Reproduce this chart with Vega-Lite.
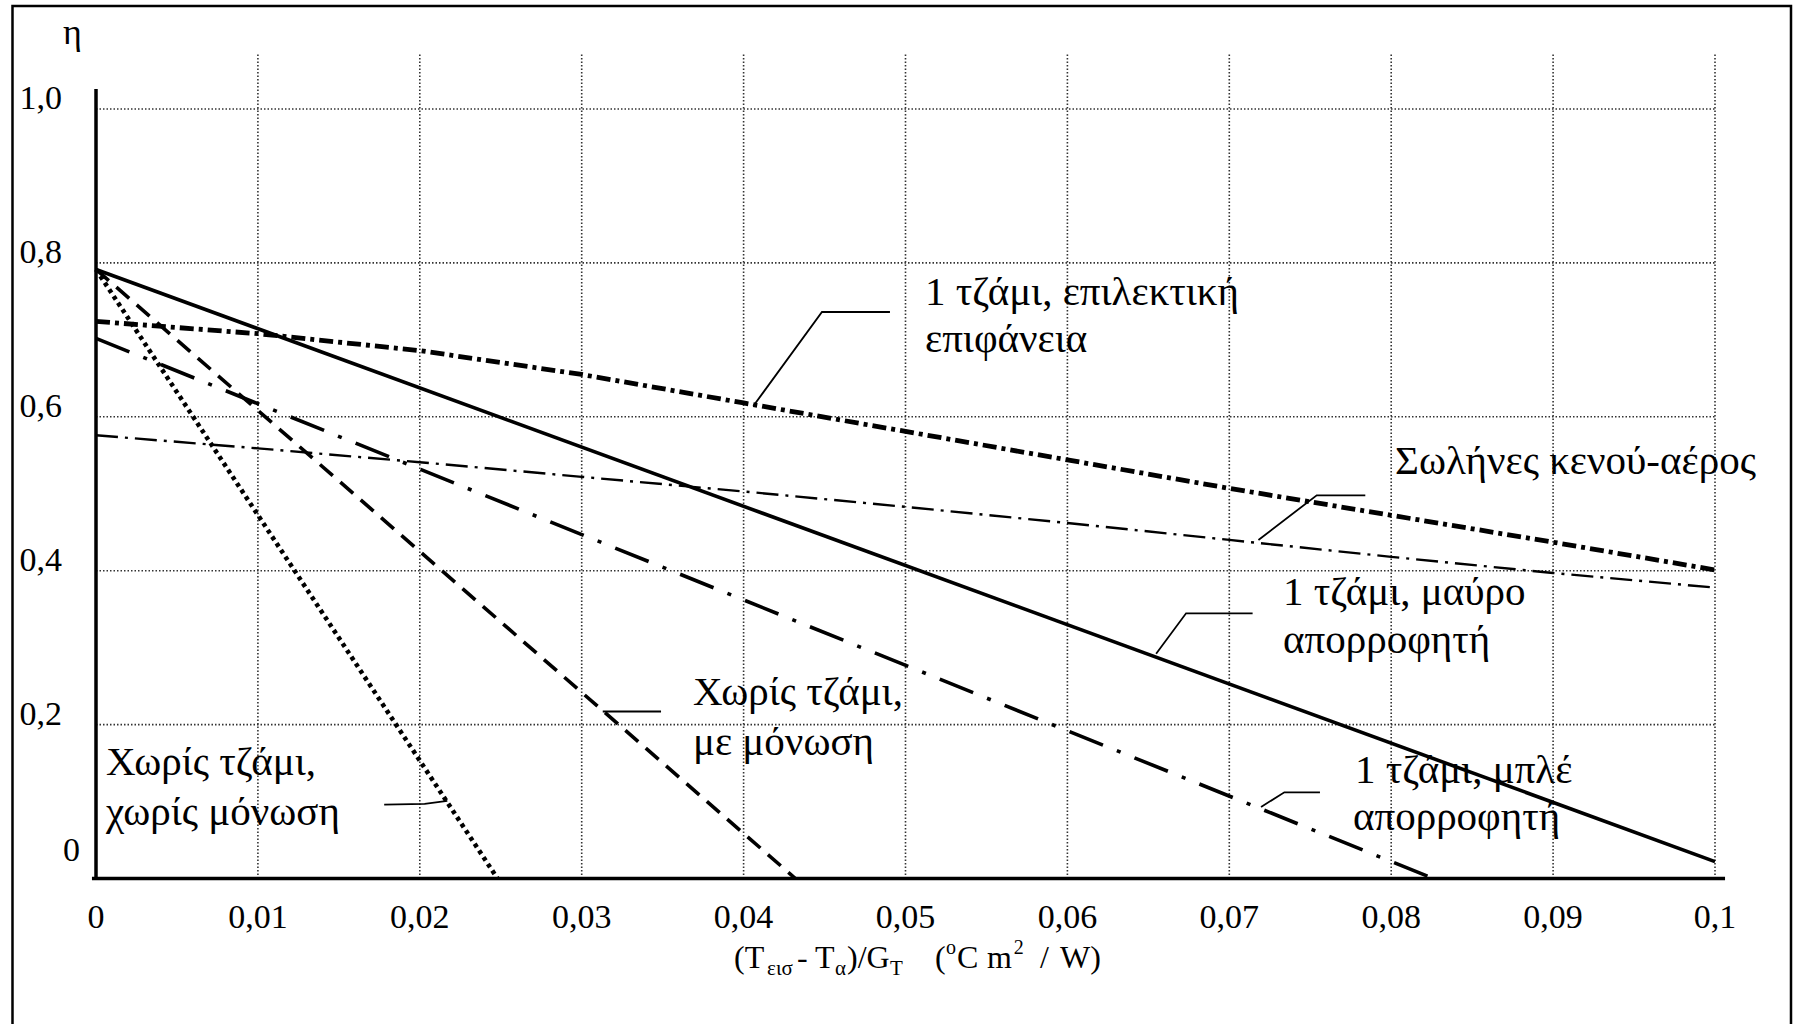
{
  "$schema": "https://vega.github.io/schema/vega-lite/v6.json",
  "width": 1796,
  "height": 1024,
  "autosize": {"type": "none"},
  "padding": 0,
  "background": "white",
  "config": {"view": {"stroke": null}, "font": "Liberation Serif"},
  "datasets": {
    "curves": [
      {"series": "1 τζάμι, μαύρο απορροφητή", "x": 0, "eta": 0.7915},
      {"series": "1 τζάμι, μαύρο απορροφητή", "x": 0.1, "eta": 0.022},
      {"series": "1 τζάμι, επιλεκτική επιφάνεια", "x": 0, "eta": 0.724},
      {"series": "1 τζάμι, επιλεκτική επιφάνεια", "x": 0.01, "eta": 0.708},
      {"series": "1 τζάμι, επιλεκτική επιφάνεια", "x": 0.02, "eta": 0.686},
      {"series": "1 τζάμι, επιλεκτική επιφάνεια", "x": 0.03, "eta": 0.655},
      {"series": "1 τζάμι, επιλεκτική επιφάνεια", "x": 0.04, "eta": 0.618},
      {"series": "1 τζάμι, επιλεκτική επιφάνεια", "x": 0.05, "eta": 0.581},
      {"series": "1 τζάμι, επιλεκτική επιφάνεια", "x": 0.06, "eta": 0.544},
      {"series": "1 τζάμι, επιλεκτική επιφάνεια", "x": 0.07, "eta": 0.507},
      {"series": "1 τζάμι, επιλεκτική επιφάνεια", "x": 0.08, "eta": 0.472},
      {"series": "1 τζάμι, επιλεκτική επιφάνεια", "x": 0.09, "eta": 0.437},
      {"series": "1 τζάμι, επιλεκτική επιφάνεια", "x": 0.1, "eta": 0.401},
      {"series": "Σωλήνες κενού-αέρος", "x": 0, "eta": 0.576},
      {"series": "Σωλήνες κενού-αέρος", "x": 0.01, "eta": 0.559},
      {"series": "Σωλήνες κενού-αέρος", "x": 0.02, "eta": 0.541},
      {"series": "Σωλήνες κενού-αέρος", "x": 0.03, "eta": 0.522},
      {"series": "Σωλήνες κενού-αέρος", "x": 0.04, "eta": 0.503},
      {"series": "Σωλήνες κενού-αέρος", "x": 0.05, "eta": 0.483},
      {"series": "Σωλήνες κενού-αέρος", "x": 0.06, "eta": 0.462},
      {"series": "Σωλήνες κενού-αέρος", "x": 0.07, "eta": 0.44},
      {"series": "Σωλήνες κενού-αέρος", "x": 0.08, "eta": 0.418},
      {"series": "Σωλήνες κενού-αέρος", "x": 0.09, "eta": 0.397},
      {"series": "Σωλήνες κενού-αέρος", "x": 0.1, "eta": 0.378},
      {"series": "1 τζάμι, μπλέ απορροφητή", "x": 0, "eta": 0.702},
      {"series": "1 τζάμι, μπλέ απορροφητή", "x": 0.0826, "eta": 0},
      {"series": "Χωρίς τζάμι, με μόνωση", "x": 0, "eta": 0.7915},
      {"series": "Χωρίς τζάμι, με μόνωση", "x": 0.0432, "eta": 0},
      {"series": "Χωρίς τζάμι, χωρίς μόνωση", "x": 0, "eta": 0.7915},
      {"series": "Χωρίς τζάμι, χωρίς μόνωση", "x": 0.0248, "eta": 0}
    ]
  },
  "layer": [
    {
      "data": {"values": [{}]},
      "mark": {"type": "rect", "fillOpacity": 0, "stroke": "black", "strokeWidth": 2.5},
      "encoding": {
        "x": {"datum": -0.005158, "type": "quantitative",
          "scale": {"domain": [-0.0059296, 0.105003], "nice": false, "zero": false}, "axis": null},
        "x2": {"datum": 0.104694},
        "y": {"datum": 1.13385, "type": "quantitative",
          "scale": {"domain": [-0.18908, 1.14165], "nice": false, "zero": false}, "axis": null},
        "y2": {"datum": -0.25}
      }
    },
    {
      "data": {"values": [{"v": 0.01}, {"v": 0.02}, {"v": 0.03}, {"v": 0.04}, {"v": 0.05}, {"v": 0.06}, {"v": 0.07}, {"v": 0.08}, {"v": 0.09}, {"v": 0.1}]},
      "mark": {"type": "rule", "color": "#333", "strokeWidth": 1.6, "strokeDash": [1.5, 2]},
      "encoding": {
        "x": {"field": "v", "type": "quantitative", "axis": null},
        "y": {"datum": 0, "type": "quantitative", "axis": null},
        "y2": {"datum": 1.0715}
      }
    },
    {
      "data": {"values": [{"v": 0.2}, {"v": 0.4}, {"v": 0.6}, {"v": 0.8}, {"v": 1.0}]},
      "mark": {"type": "rule", "color": "#333", "strokeWidth": 1.6, "strokeDash": [1.5, 2]},
      "encoding": {
        "y": {"field": "v", "type": "quantitative", "axis": null},
        "x": {"datum": 0, "type": "quantitative", "axis": null},
        "x2": {"datum": 0.1}
      }
    },
    {
      "data": {"values": [{}]},
      "mark": {"type": "rule", "color": "black", "strokeWidth": 3.5},
      "encoding": {
        "x": {"datum": 0, "type": "quantitative", "axis": null},
        "y": {"datum": 0, "type": "quantitative", "axis": null},
        "y2": {"datum": 1.026}
      }
    },
    {
      "data": {"values": [{}]},
      "mark": {"type": "rule", "color": "black", "strokeWidth": 3.5},
      "encoding": {
        "y": {"datum": 0, "type": "quantitative", "axis": null},
        "x": {"datum": -0.00025, "type": "quantitative", "axis": null},
        "x2": {"datum": 0.10062}
      }
    },
    {
      "data": {"values": [
        {"v": 0, "t": "0"}, {"v": 0.01, "t": "0,01"}, {"v": 0.02, "t": "0,02"}, {"v": 0.03, "t": "0,03"},
        {"v": 0.04, "t": "0,04"}, {"v": 0.05, "t": "0,05"}, {"v": 0.06, "t": "0,06"}, {"v": 0.07, "t": "0,07"},
        {"v": 0.08, "t": "0,08"}, {"v": 0.09, "t": "0,09"}, {"v": 0.1, "t": "0,1"}
      ]},
      "mark": {"type": "text", "align": "center", "baseline": "alphabetic", "font": "Liberation Serif", "fontSize": 34, "color": "black"},
      "encoding": {
        "x": {"field": "v", "type": "quantitative", "axis": null},
        "y": {"datum": -0.0643, "type": "quantitative", "axis": null},
        "text": {"field": "t"}
      }
    },
    {
      "data": {"values": [
        {"v": 0.2, "t": "0,2"}, {"v": 0.4, "t": "0,4"}, {"v": 0.6, "t": "0,6"}, {"v": 0.8, "t": "0,8"}, {"v": 1.0, "t": "1,0"}
      ]},
      "mark": {"type": "text", "align": "right", "baseline": "alphabetic", "font": "Liberation Serif", "fontSize": 34, "color": "black"},
      "encoding": {
        "y": {"field": "v", "type": "quantitative", "axis": null},
        "x": {"datum": -0.0021, "type": "quantitative", "axis": null},
        "text": {"field": "t"}
      }
    },
    {
      "data": {"values": [{"v": 0, "t": "0"}]},
      "mark": {"type": "text", "align": "right", "baseline": "alphabetic", "font": "Liberation Serif", "fontSize": 34, "color": "black"},
      "encoding": {
        "x": {"datum": -0.000988, "type": "quantitative", "axis": null},
        "y": {"datum": 0.0221, "type": "quantitative", "axis": null},
        "text": {"field": "t"}
      }
    },
    {
      "data": {"name": "curves"},
      "transform": [{"filter": "datum.series === '1 τζάμι, μαύρο απορροφητή'"}],
      "mark": {"type": "line", "color": "black", "strokeWidth": 3.6},
      "encoding": {"x": {"field": "x", "type": "quantitative", "axis": null}, "y": {"field": "eta", "type": "quantitative", "axis": null}}
    },
    {
      "data": {"name": "curves"},
      "transform": [{"filter": "datum.series === '1 τζάμι, επιλεκτική επιφάνεια'"}],
      "mark": {"type": "line", "color": "black", "strokeWidth": 4.8, "strokeDash": [14, 5, 4, 5]},
      "encoding": {"x": {"field": "x", "type": "quantitative", "axis": null}, "y": {"field": "eta", "type": "quantitative", "axis": null}}
    },
    {
      "data": {"name": "curves"},
      "transform": [{"filter": "datum.series === 'Σωλήνες κενού-αέρος'"}],
      "mark": {"type": "line", "color": "black", "strokeWidth": 2.4, "strokeDash": [22, 7, 3, 7]},
      "encoding": {"x": {"field": "x", "type": "quantitative", "axis": null}, "y": {"field": "eta", "type": "quantitative", "axis": null}}
    },
    {
      "data": {"name": "curves"},
      "transform": [{"filter": "datum.series === '1 τζάμι, μπλέ απορροφητή'"}],
      "mark": {"type": "line", "color": "black", "strokeWidth": 3.6, "strokeDash": [36, 15, 4, 15]},
      "encoding": {"x": {"field": "x", "type": "quantitative", "axis": null}, "y": {"field": "eta", "type": "quantitative", "axis": null}}
    },
    {
      "data": {"name": "curves"},
      "transform": [{"filter": "datum.series === 'Χωρίς τζάμι, με μόνωση'"}],
      "mark": {"type": "line", "color": "black", "strokeWidth": 3.6, "strokeDash": [17, 10]},
      "encoding": {"x": {"field": "x", "type": "quantitative", "axis": null}, "y": {"field": "eta", "type": "quantitative", "axis": null}}
    },
    {
      "data": {"name": "curves"},
      "transform": [{"filter": "datum.series === 'Χωρίς τζάμι, χωρίς μόνωση'"}],
      "mark": {"type": "line", "color": "black", "strokeWidth": 4.6, "strokeDash": [4, 4]},
      "encoding": {"x": {"field": "x", "type": "quantitative", "axis": null}, "y": {"field": "eta", "type": "quantitative", "axis": null}}
    },
    {
      "data": {"values": [
        {"id": "A", "ord": 1, "x": 0.0406, "eta": 0.614},
        {"id": "A", "ord": 2, "x": 0.04484, "eta": 0.7362},
        {"id": "A", "ord": 3, "x": 0.04904, "eta": 0.7362},
        {"id": "B", "ord": 1, "x": 0.0718, "eta": 0.44},
        {"id": "B", "ord": 2, "x": 0.0754, "eta": 0.498},
        {"id": "B", "ord": 3, "x": 0.0784, "eta": 0.498},
        {"id": "C", "ord": 1, "x": 0.06548, "eta": 0.292},
        {"id": "C", "ord": 2, "x": 0.06733, "eta": 0.3446},
        {"id": "C", "ord": 3, "x": 0.07144, "eta": 0.3446},
        {"id": "D", "ord": 1, "x": 0.07196, "eta": 0.093},
        {"id": "D", "ord": 2, "x": 0.0734, "eta": 0.112},
        {"id": "D", "ord": 3, "x": 0.0756, "eta": 0.112},
        {"id": "E", "ord": 1, "x": 0.0313, "eta": 0.217},
        {"id": "E", "ord": 2, "x": 0.0349, "eta": 0.217},
        {"id": "F", "ord": 1, "x": 0.0178, "eta": 0.096},
        {"id": "F", "ord": 2, "x": 0.0203, "eta": 0.097},
        {"id": "F", "ord": 3, "x": 0.0217, "eta": 0.101}
      ]},
      "mark": {"type": "line", "color": "black", "strokeWidth": 1.8},
      "encoding": {
        "x": {"field": "x", "type": "quantitative", "axis": null},
        "y": {"field": "eta", "type": "quantitative", "axis": null},
        "detail": {"field": "id", "type": "nominal"},
        "order": {"field": "ord", "type": "quantitative"}
      }
    },
    {
      "data": {"values": [
        {"t": "1 τζάμι, επιλεκτική", "x": 0.0512, "eta": 0.7453},
        {"t": "επιφάνεια", "x": 0.0512, "eta": 0.6842},
        {"t": "Σωλήνες κενού-αέρος", "x": 0.08024, "eta": 0.5257},
        {"t": "1 τζάμι, μαύρο", "x": 0.07332, "eta": 0.3554},
        {"t": "απορροφητή", "x": 0.07332, "eta": 0.293},
        {"t": "1 τζάμι, μπλέ", "x": 0.07776, "eta": 0.1241},
        {"t": "απορροφητή", "x": 0.07764, "eta": 0.063},
        {"t": "Χωρίς τζάμι,", "x": 0.03687, "eta": 0.2255},
        {"t": "με μόνωση", "x": 0.03687, "eta": 0.1605},
        {"t": "Χωρίς τζάμι,", "x": 0.00062, "eta": 0.1345},
        {"t": "χωρίς μόνωση", "x": 0.00062, "eta": 0.0695}
      ]},
      "mark": {"type": "text", "align": "left", "baseline": "alphabetic", "font": "Liberation Serif", "fontSize": 41, "color": "black"},
      "encoding": {
        "x": {"field": "x", "type": "quantitative", "axis": null},
        "y": {"field": "eta", "type": "quantitative", "axis": null},
        "text": {"field": "t"}
      }
    },
    {
      "data": {"values": [{"t": "η"}]},
      "mark": {"type": "text", "align": "left", "baseline": "alphabetic", "font": "Liberation Serif", "fontSize": 36, "color": "black"},
      "encoding": {
        "x": {"datum": -0.002038, "type": "quantitative", "axis": null},
        "y": {"datum": 1.0845, "type": "quantitative", "axis": null},
        "text": {"field": "t"}
      }
    },
    {
      "data": {"values": [
        {"t": "(T", "x": 0.03941},
        {"t": "- T", "x": 0.0433},
        {"t": ")/G", "x": 0.04639},
        {"t": "(", "x": 0.05182},
        {"t": "C", "x": 0.05318},
        {"t": "m", "x": 0.05503},
        {"t": "/", "x": 0.05831},
        {"t": "W)", "x": 0.05954}
      ]},
      "mark": {"type": "text", "align": "left", "baseline": "alphabetic", "font": "Liberation Serif", "fontSize": 32, "color": "black"},
      "encoding": {
        "x": {"field": "x", "type": "quantitative", "axis": null},
        "y": {"datum": -0.1163, "type": "quantitative", "axis": null},
        "text": {"field": "t"}
      }
    },
    {
      "data": {"values": [
        {"t": "εισ", "x": 0.04145},
        {"t": "α", "x": 0.04565},
        {"t": "T", "x": 0.04904}
      ]},
      "mark": {"type": "text", "align": "left", "baseline": "alphabetic", "font": "Liberation Serif", "fontSize": 21, "color": "black"},
      "encoding": {
        "x": {"field": "x", "type": "quantitative", "axis": null},
        "y": {"datum": -0.1254, "type": "quantitative", "axis": null},
        "text": {"field": "t"}
      }
    },
    {
      "data": {"values": [
        {"t": "o", "x": 0.0525},
        {"t": "2", "x": 0.05668}
      ]},
      "mark": {"type": "text", "align": "left", "baseline": "alphabetic", "font": "Liberation Serif", "fontSize": 20, "color": "black"},
      "encoding": {
        "x": {"field": "x", "type": "quantitative", "axis": null},
        "y": {"datum": -0.0981, "type": "quantitative", "axis": null},
        "text": {"field": "t"}
      }
    }
  ]
}
